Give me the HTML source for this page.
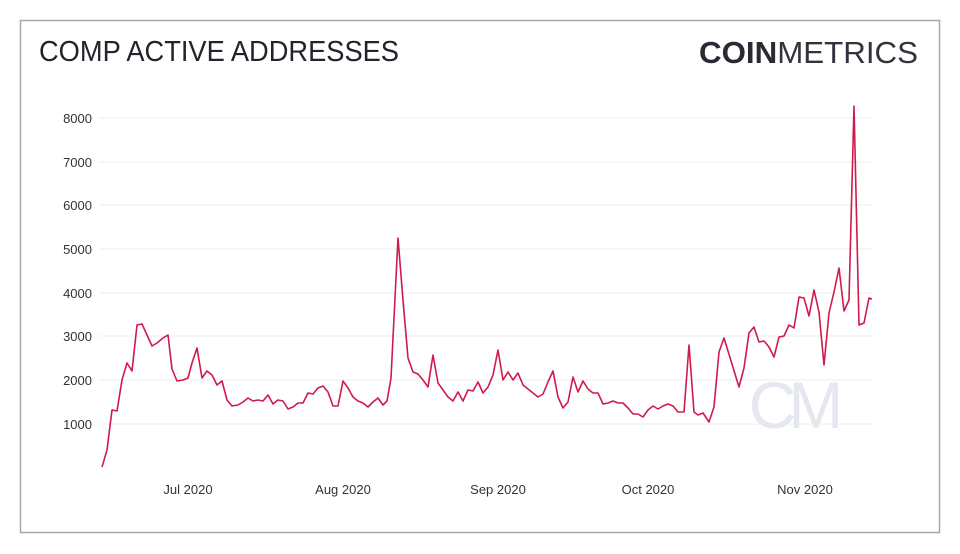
<!DOCTYPE html>
<html><head><meta charset="utf-8"><style>
html,body{margin:0;padding:0;background:#fff;}
body{width:960px;height:554px;position:relative;overflow:hidden;font-family:"Liberation Sans",sans-serif;}
</style></head><body>
<svg width="960" height="554" xmlns="http://www.w3.org/2000/svg" style="position:absolute;left:0;top:0">
<rect x="20.5" y="20.5" width="919" height="512" fill="#fff" stroke="#a8a8a8" stroke-width="1.5"/>
<text x="39" y="61" font-family="Liberation Sans, sans-serif" font-size="29" fill="#23232b" textLength="360" lengthAdjust="spacingAndGlyphs">COMP ACTIVE ADDRESSES</text>
<text x="699" y="63" font-family="Liberation Sans, sans-serif" font-size="31" fill="#2a2a35" textLength="219" lengthAdjust="spacingAndGlyphs"><tspan font-weight="bold">COIN</tspan><tspan font-weight="normal" fill="#33333d">METRICS</tspan></text>
<g stroke="#eeeeee" stroke-width="1">
<line x1="100" x2="872" y1="118" y2="118"/>
<line x1="100" x2="872" y1="162" y2="162"/>
<line x1="100" x2="872" y1="205" y2="205"/>
<line x1="100" x2="872" y1="249" y2="249"/>
<line x1="100" x2="872" y1="293" y2="293"/>
<line x1="100" x2="872" y1="336" y2="336"/>
<line x1="100" x2="872" y1="380" y2="380"/>
<line x1="100" x2="872" y1="424" y2="424"/>
</g>
<g font-family="Liberation Sans, sans-serif" font-size="13" fill="#333" text-anchor="end">
<text x="92" y="123">8000</text><text x="92" y="167">7000</text><text x="92" y="210">6000</text>
<text x="92" y="254">5000</text><text x="92" y="298">4000</text><text x="92" y="341">3000</text>
<text x="92" y="385">2000</text><text x="92" y="429">1000</text>
</g>
<g font-family="Liberation Sans, sans-serif" font-size="13" fill="#333" text-anchor="middle">
<text x="188" y="494">Jul 2020</text><text x="343" y="494">Aug 2020</text><text x="498" y="494">Sep 2020</text>
<text x="648" y="494">Oct 2020</text><text x="805" y="494">Nov 2020</text>
</g>
<text x="792" y="428" font-family="Liberation Sans, sans-serif" font-size="66" fill="#e6e8f0" text-anchor="middle" letter-spacing="-8">CM</text>
<polyline fill="none" stroke="#d01a4c" stroke-width="1.6" stroke-linejoin="round" points="
102,467 107,450 112,410 117,411 122,380 127,363 132,371 137,325 142,324 147,335 152,346 157,343 163,338 168,335 172,369 177,381 183,380 188,378 192,363 197,348 202,378 207,371 212,375 217,385 222,381 227,400 232,406 238,405 243,402 248,398 253,401 258,400 263,401 268,395 273,404 278,400 283,401 288,409 293,407 298,403 303,403 308,393 313,394 318,388 323,386 328,392 333,406 338,406 343,381 348,388 353,397 358,401 363,403 368,407 373,402 378,398 383,405 387,401 391,378 398,238 403,300 408,358 413,372 418,374 423,380 428,387 433,355 438,383 443,390 448,397 453,401 458,392 463,401 468,390 473,391 478,382 483,393 488,387 493,375 498,350 503,380 508,372 513,380 518,373 523,385 528,389 533,393 538,397 543,394 548,382 553,371 558,397 563,408 568,402 573,377 578,392 583,381 588,389 593,393 598,393 603,404 608,403 613,401 618,403 623,403 628,408 633,414 638,414 643,417 648,410 653,406 658,409 663,406 668,404 673,406 678,412 684,412 689,345 694,412 698,415 703,413 709,422 714,407 719,352 724,338 739,387 744,368 749,333 754,327 759,342 764,341 769,347 774,357 779,337 784,336 789,325 794,328 799,297 804,298 809,316 814,290 819,312 824,365 829,313 834,292 839,268 844,311 849,300 854,106 859,325 864,323 869,298 872,299"/>
</svg>
</body></html>
